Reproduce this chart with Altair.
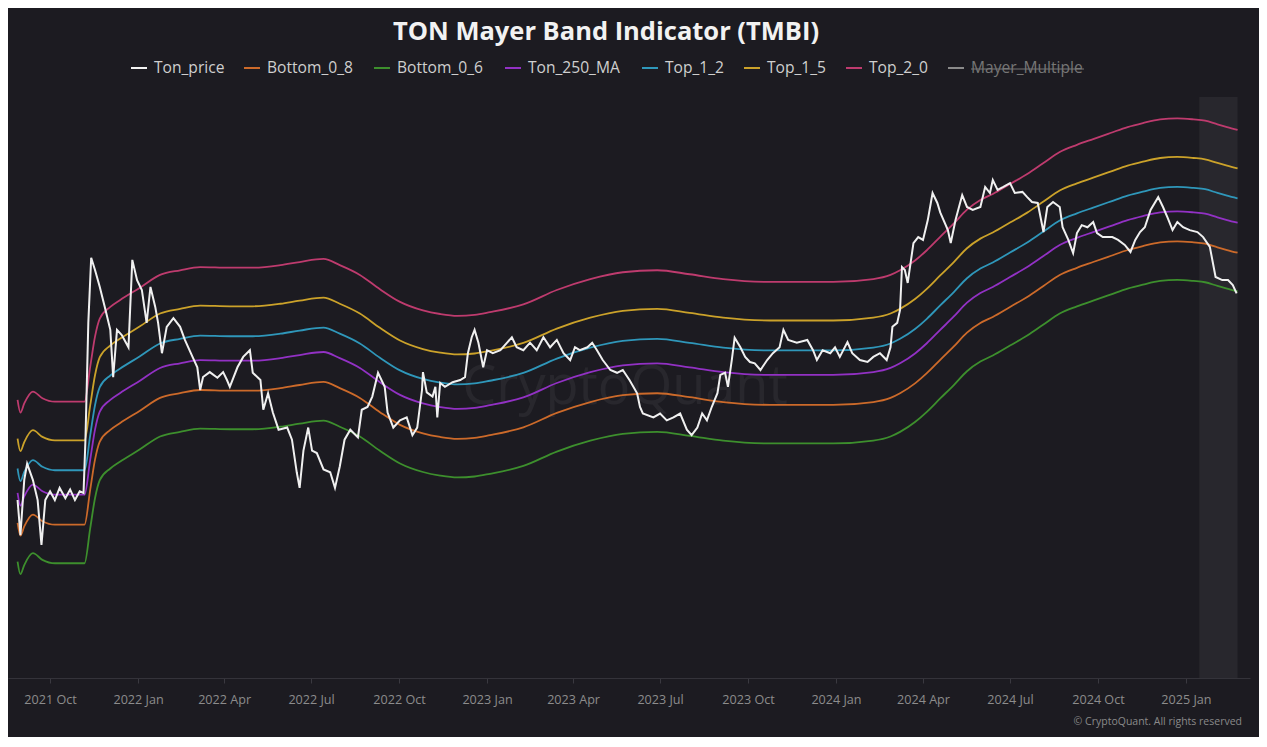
import altair as alt
import pandas as pd

# ---------------- data ----------------
price_start = "2021-08-28"
# day offsets (from price_start) of each Ton_price reading
price_days = [
    0, 3, 7, 10, 16, 21, 25, 29, 34, 39, 44, 50, 55, 60, 65, 69, 71, 74, 77, 81,
    86, 92, 97, 100, 104, 109, 116, 120, 125, 130, 135, 139, 144, 147, 151, 156, 163, 170, 175, 183,
    188, 191, 194, 201, 209, 215, 219, 222, 230, 236, 243, 246, 254, 257, 262, 267, 273, 282, 287, 292,
    295, 299, 304, 308, 313, 320, 327, 332, 337, 342, 348, 356, 360, 366, 371, 377, 384, 387, 393, 400,
    407, 413, 418, 423, 424, 428, 434, 437, 439, 442, 447, 455, 463, 468, 471, 475, 478, 482, 487, 491,
    497, 505, 512, 517, 522, 529, 536, 543, 550, 557, 564, 571, 578, 583, 588, 596, 601, 606, 612, 620,
    627, 633, 640, 648, 651, 654, 665, 672, 679, 686, 693, 700, 705, 711, 716, 721, 726, 732, 735, 740,
    743, 747, 750, 756, 761, 766, 771, 777, 784, 790, 797, 801, 806, 815, 826, 832, 836, 842, 850, 855,
    860, 868, 873, 881, 889, 895, 902, 909, 913, 915, 920, 923, 925, 928, 931, 937, 942, 947, 952, 957,
    962, 965, 973, 976, 981, 988, 993, 999, 1007, 1012, 1017, 1020, 1025, 1031, 1038, 1043, 1051, 1056, 1061, 1067,
    1073, 1077, 1083, 1090, 1093, 1099, 1104, 1108, 1113, 1119, 1125, 1129, 1135, 1145, 1151, 1158, 1164, 1169, 1174, 1179,
    1185, 1193, 1198, 1203, 1208, 1213, 1219, 1226, 1234, 1240, 1247, 1253, 1260, 1266, 1271, 1275,
]
ton_price = [
    0.74, 0.57, 0.86, 0.97, 0.86, 0.74, 0.53, 0.74, 0.79, 0.74, 0.81, 0.75, 0.80, 0.74, 0.79, 0.78, 1.16, 2.77, 4.50, 4.11,
    3.62, 3.05, 2.63, 1.85, 2.63, 2.53, 2.31, 4.43, 3.81, 3.54, 2.77, 3.62, 3.12, 2.77, 2.21, 2.69, 2.87, 2.69, 2.44, 2.15,
    1.99, 1.68, 1.85, 1.92, 1.84, 1.92, 1.81, 1.72, 1.99, 2.15, 2.26, 1.91, 1.81, 1.45, 1.64, 1.42, 1.25, 1.27, 1.16, 0.91,
    0.81, 1.07, 1.27, 1.07, 1.05, 0.93, 0.91, 0.81, 0.95, 1.16, 1.25, 1.18, 1.45, 1.48, 1.60, 1.91, 1.72, 1.42, 1.27, 1.34,
    1.37, 1.20, 1.27, 1.68, 1.92, 1.65, 1.60, 1.72, 1.37, 1.77, 1.72, 1.78, 1.81, 1.85, 2.21, 2.49, 2.63, 2.39, 1.99, 2.26,
    2.21, 2.26, 2.39, 2.49, 2.31, 2.26, 2.39, 2.26, 2.49, 2.31, 2.44, 2.21, 2.10, 2.31, 2.26, 2.31, 2.39, 2.26, 2.10, 1.95,
    1.91, 1.95, 1.81, 1.64, 1.48, 1.41, 1.37, 1.41, 1.34, 1.37, 1.41, 1.25, 1.20, 1.27, 1.41, 1.34, 1.48, 1.64, 1.88, 1.91,
    1.72, 2.10, 2.48, 2.31, 2.15, 2.07, 2.05, 1.95, 2.10, 2.21, 2.31, 2.63, 2.44, 2.39, 2.44, 2.26, 2.10, 2.26, 2.21, 2.31,
    2.15, 2.40, 2.21, 2.10, 2.07, 2.15, 2.21, 2.10, 2.31, 2.69, 2.77, 3.05, 4.20, 4.11, 3.73, 5.02, 5.25, 5.14, 5.96, 7.29,
    6.77, 6.31, 5.53, 5.02, 5.96, 7.18, 6.57, 6.43, 6.57, 7.63, 7.29, 8.03, 7.46, 7.63, 7.85, 7.29, 7.35, 7.07, 6.82, 6.77,
    5.45, 6.57, 6.82, 6.57, 5.65, 5.14, 4.66, 5.41, 5.74, 5.65, 5.87, 5.41, 5.25, 5.25, 5.14, 4.95, 4.70, 5.14, 5.45, 5.65,
    6.43, 7.07, 6.57, 6.05, 5.53, 5.87, 5.65, 5.53, 5.45, 5.25, 4.88, 3.90, 3.81, 3.81, 3.67, 3.45,
]

ma_dates = [
    "2021-08-28", "2021-08-31", "2021-09-04", "2021-09-13", "2021-09-23",
    "2021-10-06", "2021-11-06", "2021-11-12", "2021-11-17", "2021-11-22",
    "2021-12-03", "2021-12-13", "2022-01-03", "2022-01-24", "2022-02-14",
    "2022-03-07", "2022-04-07", "2022-05-01", "2022-05-30", "2022-06-19",
    "2022-07-14", "2022-07-31", "2022-08-21", "2022-09-11", "2022-10-02",
    "2022-10-26", "2022-11-13", "2022-12-01", "2022-12-19", "2023-01-04",
    "2023-02-08", "2023-03-15", "2023-04-19", "2023-05-23", "2023-06-28",
    "2023-08-01", "2023-09-05", "2023-10-24", "2023-12-29", "2024-02-09",
    "2024-02-27", "2024-03-08", "2024-03-24", "2024-04-05", "2024-04-19",
    "2024-05-03", "2024-05-17", "2024-05-31", "2024-06-13", "2024-07-01",
    "2024-07-19", "2024-08-05", "2024-08-22", "2024-09-09", "2024-09-26",
    "2024-10-14", "2024-11-01", "2024-11-17", "2024-12-05", "2024-12-23",
    "2025-01-09", "2025-01-21", "2025-02-03", "2025-02-13", "2025-02-24",
]
ton_250_ma = [
    0.78, 0.71, 0.76, 0.83, 0.79, 0.77, 0.77, 1.00, 1.25, 1.43,
    1.56, 1.64, 1.80, 1.98, 2.05, 2.10, 2.09, 2.09, 2.13, 2.18,
    2.23, 2.13, 1.98, 1.78, 1.62, 1.52, 1.48, 1.46, 1.47, 1.50,
    1.59, 1.77, 1.92, 2.02, 2.05, 1.99, 1.92, 1.88, 1.88, 1.92,
    1.98, 2.05, 2.21, 2.38, 2.63, 2.90, 3.22, 3.46, 3.62, 3.90,
    4.20, 4.56, 4.95, 5.22, 5.45, 5.70, 5.96, 6.14, 6.31, 6.36,
    6.31, 6.25, 6.08, 5.96, 5.84,
]

# Mayer bands are the 250-day MA times these multiples
band_names = ["Bottom_0_8", "Bottom_0_6", "Ton_250_MA", "Top_1_2", "Top_1_5", "Top_2_0"]
band_factors = [0.8, 0.6, 1.0, 1.2, 1.5, 2.0]

legend_names = ["Ton_price", "Bottom_0_8", "Bottom_0_6", "Ton_250_MA",
                "Top_1_2", "Top_1_5", "Top_2_0", "Mayer_Multiple"]
legend_colors = ["#f2f2f2", "#cc6a2a", "#3d8f2d", "#9231c4",
                 "#2f97ba", "#cba22a", "#be3b6e", "#8a8a8a"]

shade_start = ["2025-01-15"]
shade_end = ["2025-02-24"]

tick_months = [(2021, 10), (2022, 1), (2022, 4), (2022, 7), (2022, 10),
               (2023, 1), (2023, 4), (2023, 7), (2023, 10), (2024, 1),
               (2024, 4), (2024, 7), (2024, 10), (2025, 1)]

# ---------------- tables ----------------
price_df = pd.DataFrame({
    "date": (pd.Timestamp(price_start) + pd.to_timedelta(price_days, unit="D")).strftime("%Y-%m-%d"),
    "value": ton_price,
})
rows = []
for name, f in zip(band_names, band_factors):
    for d, v in zip(ma_dates, ton_250_ma):
        rows.append({"date": d, "value": v * f, "series": name})
bands_df = pd.DataFrame(rows)
shade_df = pd.DataFrame({"start": shade_start, "end": shade_end})
one = pd.DataFrame({"a": [0]})

# ---------------- layout ----------------
W, H = 1242, 581
BG = "#1c1b21"
FONT = "Open Sans"

x_scale = alt.Scale(type="utc", domain=[alt.DateTime(year=2021, month=8, date=18, utc=True),
                                        alt.DateTime(year=2025, month=3, date=9, utc=True)])
x_axis = alt.Axis(
    values=[alt.DateTime(year=y, month=m, date=1, utc=True) for y, m in tick_months],
    format="%Y %b", title=None, grid=False,
    labelColor="#8c8c8c", labelFontSize=12.6, labelFont=FONT, labelPadding=10,
    tickColor="#3a3940", tickSize=5, domainColor="#34333a", domainWidth=1,
)
y_scale = alt.Scale(type="log", domain=[0.1965, 14.91], nice=False)

shade = alt.Chart(shade_df).mark_rect(color="#ffffff", opacity=0.055).encode(
    x=alt.X("start:T", scale=x_scale, axis=x_axis),
    x2="end:T",
)

watermark = alt.Chart(one).mark_text(
    text="CryptoQuant", font=FONT, fontSize=54, color="#ffffff", opacity=0.05,
    align="center", baseline="middle",
).encode(x=alt.value(617), y=alt.value(291))

bands = alt.Chart(bands_df).mark_line(strokeWidth=1.8, interpolate="monotone").encode(
    x=alt.X("date:T", scale=x_scale, axis=x_axis),
    y=alt.Y("value:Q", scale=y_scale, axis=None),
    color=alt.Color("series:N", scale=alt.Scale(domain=legend_names, range=legend_colors), legend=None),
)

price = alt.Chart(price_df).mark_line(strokeWidth=2, color="#f0f0f0").encode(
    x=alt.X("date:T", scale=x_scale, axis=x_axis),
    y=alt.Y("value:Q", scale=y_scale, axis=None),
)

layers = [shade, watermark, bands, price]

# title
layers.append(alt.Chart(one).mark_text(
    text="TON Mayer Band Indicator (TMBI)", font=FONT, fontSize=25.5, fontWeight="bold",
    color="#f2f2f2", align="center", baseline="middle",
).encode(x=alt.value(598), y=alt.value(-65)))

# custom legend
label_x = [146, 259, 389, 520, 657, 759, 861, 963]
LEG_Y = -29
for name, col, lx in zip(legend_names, legend_colors, label_x):
    muted = name == "Mayer_Multiple"
    layers.append(alt.Chart(one).mark_rule(color=col, strokeWidth=2).encode(
        x=alt.value(lx - 23), x2=alt.value(lx - 7), y=alt.value(LEG_Y)))
    layers.append(alt.Chart(one).mark_text(
        text=name, font=FONT, fontSize=15.6, color="#767676" if muted else "#cfcfcf",
        align="left", baseline="middle",
    ).encode(x=alt.value(lx), y=alt.value(LEG_Y)))
    if muted:
        layers.append(alt.Chart(one).mark_rule(color="#767676", strokeWidth=1).encode(
            x=alt.value(lx), x2=alt.value(lx + 113), y=alt.value(LEG_Y + 1)))

# copyright
layers.append(alt.Chart(one).mark_text(
    text="© CryptoQuant. All rights reserved", font=FONT, fontSize=10.5,
    color="#8a8a8a", align="right", baseline="middle",
).encode(x=alt.value(1234), y=alt.value(625)))

chart = alt.layer(*layers).properties(
    width=W, height=H,
    padding={"left": 0, "top": 89, "right": 9, "bottom": 59},
    autosize=alt.AutoSizeParams(type="none"),
    background=BG,
).configure_view(stroke=None)

chart.save("out.html", embed_options={"renderer": "svg", "actions": False})
